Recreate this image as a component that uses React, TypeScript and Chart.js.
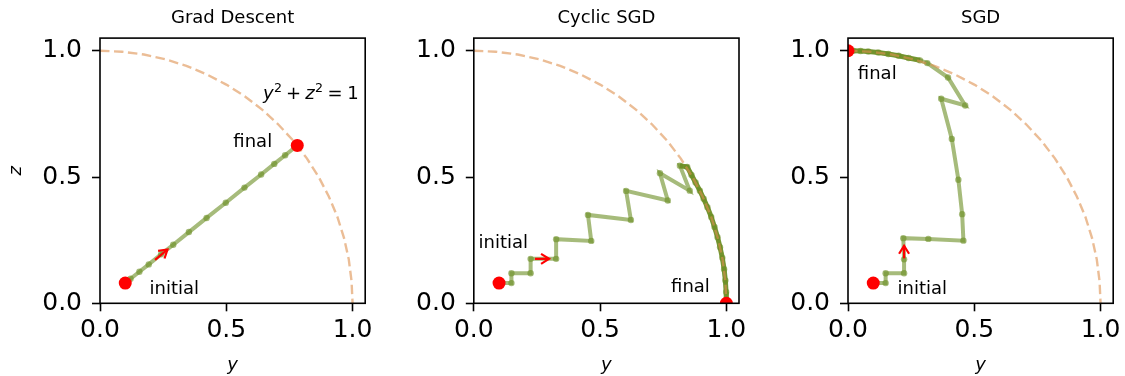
import React, { useEffect, useRef } from 'react';
import { Chart, registerables } from 'chart.js';

Chart.register(...registerables);

// ---------------- data ----------------
const panelTitles = ['Grad Descent', 'Cyclic SGD', 'SGD'];
const tickValues = [0, 0.5, 1.0];
const tickLabels = ['0.0', '0.5', '1.0'];
const axisMin = 0;
const axisMax = 1.05;
const xAxisLabel = 'y';
const yAxisLabel = 'z';
const annotationTexts = ['initial', 'final'];

// unit circle y^2 + z^2 = 1
const circleY = [0, 0.087, 0.174, 0.259, 0.342, 0.423, 0.5, 0.574, 0.643, 0.707, 0.766, 0.819, 0.866, 0.906, 0.94, 0.966, 0.985, 0.996, 1];
const circleZ = [1, 0.996, 0.985, 0.966, 0.94, 0.906, 0.866, 0.819, 0.766, 0.707, 0.643, 0.574, 0.5, 0.423, 0.342, 0.259, 0.174, 0.087, 0];
const equationAnchor = [0.645, 0.807];

const initialPoint = [0.1, 0.08];

// Grad Descent
const gdY = [0.1, 0.121, 0.156, 0.193, 0.242, 0.29, 0.352, 0.422, 0.498, 0.572, 0.638, 0.69, 0.733, 0.781];
const gdZ = [0.08, 0.097, 0.125, 0.154, 0.194, 0.232, 0.282, 0.338, 0.398, 0.458, 0.51, 0.552, 0.586, 0.625];
const gdTailStart = 13;
const gdFinal = [0.781, 0.625];
const gdArrow = [0.218, 0.172, 0.267, 0.213];
const gdTextY = [0.196, 0.528];
const gdTextZ = [0.037, 0.618];

// Cyclic SGD
const cyY = [0.1, 0.149, 0.149, 0.225, 0.225, 0.326, 0.326, 0.465, 0.452, 0.622, 0.603, 0.768, 0.737, 0.855, 0.816, 0.845, 0.862, 0.878, 0.895, 0.91, 0.925, 0.94, 0.953, 0.965, 0.975, 0.984, 0.991, 0.996, 0.999, 1.0];
const cyZ = [0.08, 0.08, 0.119, 0.119, 0.176, 0.176, 0.254, 0.247, 0.35, 0.33, 0.445, 0.407, 0.515, 0.446, 0.545, 0.54, 0.508, 0.478, 0.446, 0.414, 0.38, 0.342, 0.302, 0.262, 0.222, 0.18, 0.135, 0.09, 0.045, 0.0];
const cyTailStart = 14;
const cyFinal = [1.0, 0.0];
const cyArrow = [0.242, 0.176, 0.298, 0.176];
const cyTextY = [0.019, 0.781];
const cyTextZ = [0.218, 0.046];

// SGD
const sgY = [0.1, 0.149, 0.149, 0.222, 0.222, 0.219, 0.318, 0.457, 0.452, 0.437, 0.411, 0.369, 0.464, 0.396, 0.314, 0.285, 0.24, 0.2, 0.16, 0.12, 0.08, 0.05, 0.02, 0.0];
const sgZ = [0.08, 0.08, 0.119, 0.119, 0.174, 0.258, 0.255, 0.248, 0.353, 0.489, 0.651, 0.81, 0.783, 0.894, 0.951, 0.962, 0.971, 0.98, 0.987, 0.993, 0.997, 0.999, 1.0, 1.0];
const sgTailStart = 15;
const sgFinal = [0.0, 1.0];
const sgArrow = [0.222, 0.178, 0.222, 0.228];
const sgTextY = [0.196, 0.039];
const sgTextZ = [0.037, 0.888];

// ---------------- layout / style ----------------
const FONT = "'DejaVu Sans', 'Liberation Sans', sans-serif";
const CANVAS_W = 375;
const CANVAS_H = 376;
const AREA_TOP = 38.1;
const AREA_BOTTOM = 303.3;
const GREEN = 'rgba(107,142,35,0.6)';
const GREEN_DARK = 'rgba(107,142,35,0.88)';
const CIRCLE = 'rgba(222,145,80,0.6)';

type PanelDef = {
  title: string;
  ys: number[];
  zs: number[];
  tailStart: number;
  final: number[];
  arrow: number[];
  textY: number[];
  textZ: number[];
  showZ: boolean;
  showEq: boolean;
  canvasLeft: number;
  areaLeft: number;
  padRight: number;
};

const panels: PanelDef[] = [
  { title: panelTitles[0], ys: gdY, zs: gdZ, tailStart: gdTailStart, final: gdFinal, arrow: gdArrow, textY: gdTextY, textZ: gdTextZ, showZ: true, showEq: true, canvasLeft: 0, areaLeft: 100, padRight: 9.8 },
  { title: panelTitles[1], ys: cyY, zs: cyZ, tailStart: cyTailStart, final: cyFinal, arrow: cyArrow, textY: cyTextY, textZ: cyTextZ, showZ: false, showEq: false, canvasLeft: 375, areaLeft: 98.8, padRight: 11 },
  { title: panelTitles[2], ys: sgY, zs: sgZ, tailStart: sgTailStart, final: sgFinal, arrow: sgArrow, textY: sgTextY, textZ: sgTextZ, showZ: false, showEq: false, canvasLeft: 750, areaLeft: 98, padRight: 11.8 },
];

const toPts = (a: number[], b: number[]) => a.map((v, i) => ({ x: v, y: b[i] }));

function drawEquation(ctx: CanvasRenderingContext2D, x: number, y: number) {
  const base = 18;
  const sup = 12.6;
  const parts: { t: string; italic: boolean; size: number; dy: number; gapAfter: number }[] = [
    { t: 'y', italic: true, size: base, dy: 0, gapAfter: 0.5 },
    { t: '2', italic: false, size: sup, dy: -7.5, gapAfter: 4 },
    { t: '+', italic: false, size: base, dy: 0, gapAfter: 4 },
    { t: 'z', italic: true, size: base, dy: 0, gapAfter: 0.5 },
    { t: '2', italic: false, size: sup, dy: -7.5, gapAfter: 4.5 },
    { t: '=', italic: false, size: base, dy: 0, gapAfter: 4.5 },
    { t: '1', italic: false, size: base, dy: 0, gapAfter: 0 },
  ];
  let cx = x;
  ctx.fillStyle = '#000';
  ctx.textAlign = 'left';
  ctx.textBaseline = 'alphabetic';
  for (const p of parts) {
    ctx.font = `${p.italic ? 'italic ' : ''}${p.size}px ${FONT}`;
    ctx.fillText(p.t, cx, y + p.dy);
    cx += ctx.measureText(p.t).width + p.gapAfter;
  }
}

function PanelChart({ def }: { def: PanelDef }) {
  const ref = useRef<HTMLCanvasElement | null>(null);
  useEffect(() => {
    if (!ref.current) return;
    const tickFont = { family: FONT, size: 25 };
    const overlay = {
      id: 'overlay',
      afterDatasetsDraw(chart: any) {
        const ctx: CanvasRenderingContext2D = chart.ctx;
        const xs = chart.scales.x;
        const ys = chart.scales.y;
        const area = chart.chartArea;
        const px = (v: number) => xs.getPixelForValue(v);
        const py = (v: number) => ys.getPixelForValue(v);
        ctx.save();
        // arrow
        const [ay0, az0, ay1, az1] = def.arrow;
        const x0 = px(ay0), y0 = py(az0), x1 = px(ay1), y1 = py(az1);
        const dx = x1 - x0, dy = y1 - y0;
        const len = Math.hypot(dx, dy) || 1;
        const ux = dx / len, uy = dy / len;
        const hl = 8, hw = 5;
        ctx.strokeStyle = '#ff0000';
        ctx.lineWidth = 2.2;
        ctx.lineCap = 'butt';
        ctx.lineJoin = 'miter';
        ctx.beginPath();
        ctx.moveTo(x0, y0);
        ctx.lineTo(x1, y1);
        ctx.stroke();
        ctx.beginPath();
        ctx.moveTo(x1 - hl * ux - hw * uy, y1 - hl * uy + hw * ux);
        ctx.lineTo(x1, y1);
        ctx.lineTo(x1 - hl * ux + hw * uy, y1 - hl * uy - hw * ux);
        ctx.stroke();
        // annotations
        ctx.fillStyle = '#000';
        ctx.font = `18px ${FONT}`;
        ctx.textAlign = 'left';
        ctx.textBaseline = 'alphabetic';
        annotationTexts.forEach((t, i) => {
          ctx.fillText(t, px(def.textY[i]), py(def.textZ[i]));
        });
        if (def.showEq) drawEquation(ctx, px(equationAnchor[0]), py(equationAnchor[1]));
        // spines
        ctx.strokeStyle = '#000';
        ctx.lineWidth = 1.6;
        ctx.strokeRect(area.left, area.top, area.right - area.left, area.bottom - area.top);
        // title
        ctx.font = `18px ${FONT}`;
        ctx.textAlign = 'center';
        ctx.textBaseline = 'alphabetic';
        ctx.fillText(def.title, (area.left + area.right) / 2, 23.3);
        ctx.restore();
      },
    };
    const gridCfg = {
      display: true,
      drawOnChartArea: false,
      drawTicks: true,
      tickLength: 8,
      tickWidth: 1.6,
      tickColor: '#000',
    };
    const setTicks = (s: any) => {
      s.ticks = tickValues.map((v) => ({ value: v }));
    };
    const fmt = (v: any) => {
      const i = tickValues.findIndex((t) => Math.abs(t - Number(v)) < 1e-9);
      return i >= 0 ? tickLabels[i] : '';
    };
    const chart = new Chart(ref.current, {
      type: 'line',
      data: {
        datasets: [
          {
            data: toPts([def.final[0], initialPoint[0]], [def.final[1], initialPoint[1]]),
            showLine: false,
            pointRadius: 6.5,
            pointBackgroundColor: '#ff0000',
            pointBorderWidth: 0,
            order: 0,
            clip: 0,
          },
          {
            data: toPts(circleY, circleZ),
            borderColor: CIRCLE,
            borderWidth: 2.4,
            borderDash: [9.5, 4.5],
            pointRadius: 0,
            fill: false,
            tension: 0,
            order: 2,
            clip: 0,
          },
          {
            data: toPts(def.ys.slice(def.tailStart), def.zs.slice(def.tailStart)),
            borderColor: GREEN_DARK,
            borderWidth: 5,
            pointRadius: 0,
            fill: false,
            tension: 0,
            order: 3,
            clip: 0,
          },
          {
            data: toPts(def.ys, def.zs),
            borderColor: GREEN,
            borderWidth: 4,
            pointRadius: 3.2,
            pointBackgroundColor: GREEN,
            pointBorderWidth: 0,
            fill: false,
            tension: 0,
            order: 4,
            clip: 0,
          },
        ],
      },
      options: {
        responsive: false,
        animation: false,
        devicePixelRatio: 1,
        events: [],
        layout: { padding: { left: 0, right: def.padRight, top: AREA_TOP, bottom: 0 } },
        plugins: { legend: { display: false }, tooltip: { enabled: false }, title: { display: false } },
        scales: {
          x: {
            type: 'linear',
            min: axisMin,
            max: axisMax,
            afterBuildTicks: setTicks,
            afterFit: (s: any) => {
              s.height = CANVAS_H - AREA_BOTTOM;
              s.paddingLeft = 0;
              s.paddingRight = 0;
            },
            ticks: { callback: fmt, font: tickFont, color: '#000', padding: 4.5, maxRotation: 0, autoSkip: false },
            grid: gridCfg,
            border: { display: false },
            title: {
              display: true,
              text: xAxisLabel,
              color: '#000',
              font: { family: FONT, size: 18, style: 'italic' },
              padding: { top: 0, bottom: 0 },
            },
          },
          y: {
            type: 'linear',
            min: axisMin,
            max: axisMax,
            afterBuildTicks: setTicks,
            afterFit: (s: any) => {
              s.width = def.areaLeft;
              s.paddingTop = 0;
              s.paddingBottom = 0;
            },
            ticks: { callback: fmt, font: tickFont, color: '#000', padding: 10, autoSkip: false },
            grid: gridCfg,
            border: { display: false },
            title: {
              display: def.showZ,
              text: yAxisLabel,
              color: '#000',
              font: { family: FONT, size: 18, style: 'italic' },
              padding: { top: 6, bottom: 0 },
            },
          },
        },
      },
      plugins: [overlay],
    } as any);
    return () => chart.destroy();
  }, [def]);
  return (
    <canvas
      ref={ref}
      width={CANVAS_W}
      height={CANVAS_H}
      style={{ position: 'absolute', left: def.canvasLeft, top: 0, width: CANVAS_W, height: CANVAS_H, display: 'block' }}
    />
  );
}

export default function App() {
  return (
    <div style={{ position: 'absolute', left: 0, top: 0, width: 1125, height: 376, background: '#fff' }}>
      {panels.map((p) => (
        <PanelChart key={p.title} def={p} />
      ))}
    </div>
  );
}
